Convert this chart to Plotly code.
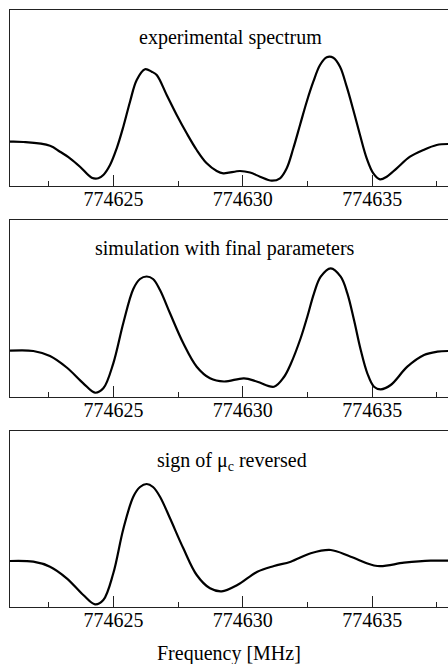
import plotly.graph_objects as go

# ---------------- data ----------------
# Frequency [MHz], intensity (arbitrary units, baseline = 0)
exp_freq = [774621.000, 774621.514, 774622.546, 774622.933, 774623.319, 774623.706, 774624.158,
            774624.413, 774624.607, 774624.866, 774625.125, 774625.380, 774625.639, 774625.898,
            774626.218, 774626.478, 774626.671, 774627.057, 774627.444, 774627.830, 774628.217,
            774628.604, 774628.990, 774629.245, 774629.891, 774630.277, 774630.664, 774631.116,
            774631.437, 774631.696, 774631.951, 774632.210, 774632.469, 774632.724, 774632.983,
            774633.242, 774633.497, 774633.756, 774634.015, 774634.270, 774634.529, 774634.788,
            774635.044, 774635.302, 774635.561, 774635.948, 774636.462, 774636.976, 774637.494,
            774637.931]
exp_int = [0.003, 0.0, -0.037, -0.097, -0.163, -0.247, -0.357,
           -0.363, -0.33, -0.23, -0.063, 0.153, 0.403, 0.62,
           0.727, 0.703, 0.67, 0.47, 0.27, 0.087, -0.08,
           -0.213, -0.29, -0.313, -0.29, -0.305, -0.347, -0.387,
           -0.363, -0.263, -0.063, 0.17, 0.403, 0.603, 0.77,
           0.847, 0.843, 0.753, 0.553, 0.32, 0.07, -0.163,
           -0.313, -0.373, -0.347, -0.263, -0.147, -0.08, -0.03,
           -0.02]

sim_freq = [774621.000, 774621.901, 774622.546, 774623.192, 774623.833, 774624.286, 774624.607,
            774624.993, 774625.380, 774625.766, 774626.025, 774626.284, 774626.528, 774626.798,
            774627.185, 774627.699, 774628.217, 774628.731, 774629.272, 774630.045, 774630.560,
            774631.205, 774631.591, 774631.851, 774632.237, 774632.492, 774632.751, 774633.010,
            774633.397, 774633.783, 774634.039, 774634.297, 774634.557, 774634.812, 774635.070,
            774635.330, 774635.716, 774636.358, 774637.003, 774637.517, 774637.931]
sim_int = [0.003, 0.0, -0.05, -0.165, -0.323, -0.417, -0.373,
           -0.123, 0.28, 0.62, 0.72, 0.745, 0.72, 0.61,
           0.377, 0.077, -0.157, -0.273, -0.305, -0.273, -0.307,
           -0.357, -0.26, -0.13, 0.13, 0.343, 0.577, 0.743,
           0.827, 0.743, 0.577, 0.31, 0.01, -0.223, -0.357,
           -0.383, -0.34, -0.157, -0.04, -0.007, 0.0]

rev_freq = [774621.000, 774621.901, 774622.546, 774623.192, 774623.833, 774624.286, 774624.607,
            774624.993, 774625.380, 774625.766, 774626.025, 774626.284, 774626.528, 774626.798,
            774627.185, 774627.699, 774628.217, 774628.731, 774629.183, 774629.786, 774630.560,
            774631.205, 774631.851, 774632.624, 774633.397, 774634.170, 774635.198, 774636.230,
            774637.262, 774637.931]
rev_int = [0.0, -0.007, -0.057, -0.173, -0.34, -0.433, -0.39,
           -0.123, 0.32, 0.643, 0.74, 0.77, 0.74, 0.643,
           0.427, 0.127, -0.14, -0.273, -0.303, -0.24, -0.107,
           -0.05, -0.007, 0.077, 0.11, 0.043, -0.05, -0.017,
           0.003, 0.003]

panel_titles = ["experimental spectrum",
                "simulation with final parameters",
                "sign of \u03bc<sub>c</sub> reversed"]
tick_vals = [774625, 774630, 774635]
tick_text = ["774625", "774630", "774635"]
minor_vals = [774622.5, 774627.5, 774632.5, 774637.5]
x_range = [774621.0, 774637.93]
y_ranges = [[-0.44, 1.32], [-0.46, 1.31], [-0.457, 1.303]]
x_label = "Frequency [MHz]"

# ---------------- figure ----------------
W, H = 448, 664
FONT = "Liberation Serif"

def fx(px):
    return px / W

def fy(px):
    return 1 - px / H

domains = [[fy(186), fy(10)], [fy(397), fy(220)], [fy(606.7), fy(430.7)]]
title_pos = [(230.5, 37), (225, 248), (232, 461)]

fig = go.Figure()
series = [(exp_freq, exp_int), (sim_freq, sim_int), (rev_freq, rev_int)]
for i, (xf, yi) in enumerate(series):
    n = "" if i == 0 else str(i + 1)
    fig.add_trace(go.Scatter(x=xf, y=yi, mode="lines",
                             line=dict(color="black", width=2.2, shape="spline", smoothing=1.0),
                             xaxis="x" + n, yaxis="y" + n, showlegend=False,
                             hoverinfo="skip"))
    fig.update_layout(**{
        "xaxis" + n: dict(domain=[fx(10), 1], range=x_range, anchor="y" + n,
                          showline=True, mirror=True, linecolor="#222", linewidth=1.2,
                          showgrid=False, zeroline=False,
                          tickmode="array", tickvals=tick_vals, ticktext=tick_text,
                          ticks="inside", ticklen=11, tickwidth=1.2, tickcolor="#222",
                          minor=dict(tickmode="array", tickvals=minor_vals,
                                     ticks="inside", ticklen=5, tickwidth=1.2,
                                     tickcolor="#222", showgrid=False),
                          tickfont=dict(family=FONT, size=20, color="black"),
                          ticklabelstandoff=-5,
                          fixedrange=True),
        "yaxis" + n: dict(domain=domains[i], range=y_ranges[i], anchor="x" + n,
                          showline=True, mirror=False, linecolor="#222", linewidth=1.2,
                          showgrid=False, zeroline=False, showticklabels=False,
                          ticks="", fixedrange=True),
    })
    tx, ty = title_pos[i]
    fig.add_annotation(x=fx(tx), y=fy(ty), xref="paper", yref="paper",
                       text=panel_titles[i], showarrow=False,
                       xanchor="center", yanchor="middle",
                       font=dict(family=FONT, size=20, color="black"))

fig.add_annotation(x=fx(229), y=fy(653), xref="paper", yref="paper",
                   text=x_label, showarrow=False, xanchor="center", yanchor="middle",
                   font=dict(family=FONT, size=20, color="black"))

fig.update_layout(width=W, height=H, margin=dict(l=0, r=0, t=0, b=0),
                  paper_bgcolor="white", plot_bgcolor="white", hovermode=False)

# place the figure at the page origin (remove the default body margin)
fig.write_html("out.html", config={"displayModeBar": False},
               post_script="document.body.style.margin='0px';")
